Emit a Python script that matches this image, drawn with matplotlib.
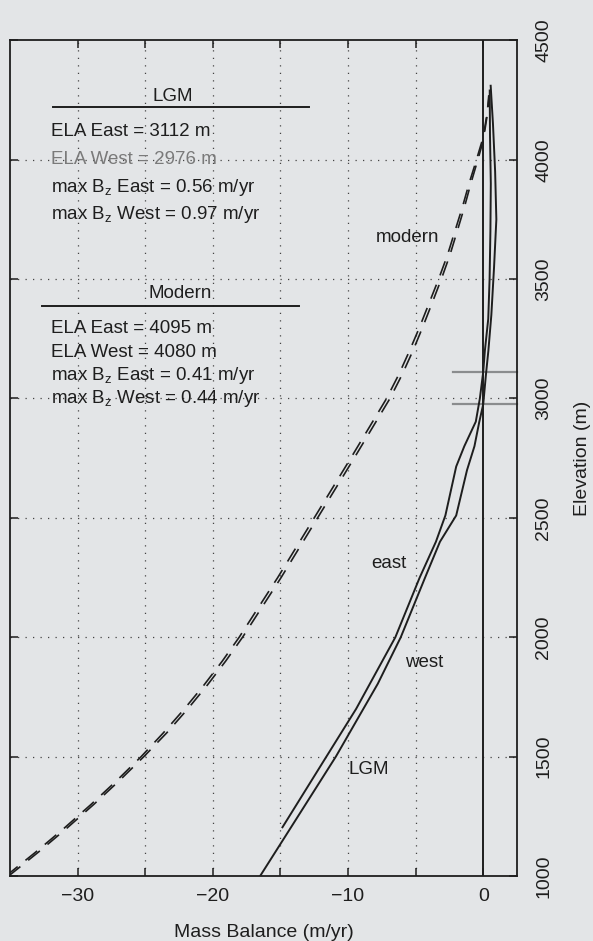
import matplotlib.pyplot as plt

plt.rcParams['font.family'] = ['Liberation Sans', 'DejaVu Sans']
plt.rcParams['mathtext.fontset'] = 'custom'
plt.rcParams['mathtext.rm'] = 'Liberation Sans'
plt.rcParams['mathtext.it'] = 'Liberation Sans'
plt.rcParams['mathtext.default'] = 'regular'

paper = '#e3e5e7'
ink = '#1e1e1e'

# Modern mass balance profiles (elevation in m, balance in m/yr)
modern_east_z = [1000, 1100, 1200, 1300, 1400, 1500, 1600, 1700, 1800, 1900, 2000,
                 2250, 2500, 2750, 3000, 3100, 3200, 3300, 3400, 3500, 3600,
                 3700, 3800, 3900, 4000, 4095, 4200, 4270]
modern_east_b = [-35.3, -33.1, -31.0, -29.0, -27.1, -25.3, -23.65, -22.1, -20.65, -19.3, -18.05,
                 -15.2, -12.5, -9.8, -7.15, -6.25, -5.45, -4.7, -4.0, -3.3, -2.65,
                 -2.1, -1.55, -1.05, -0.5, 0.0, 0.3, 0.41]
modern_west_z = [1000, 1100, 1200, 1300, 1400, 1500, 1600, 1700, 1800, 1900, 2000,
                 2250, 2500, 2750, 3000, 3100, 3200, 3300, 3400, 3500, 3600,
                 3700, 3800, 3900, 4000, 4080, 4200, 4270]
modern_west_b = [-35.1, -32.9, -30.8, -28.8, -26.9, -25.1, -23.4, -21.85, -20.4, -19.05, -17.8,
                 -14.95, -12.25, -9.55, -6.9, -6.0, -5.2, -4.47, -3.78, -3.1, -2.47,
                 -1.93, -1.4, -0.92, -0.4, 0.0, 0.33, 0.44]

# LGM mass balance profiles
lgm_east_z = [1204, 1500, 1700, 2000, 2250, 2400, 2510, 2715, 2800, 2903,
              3000, 3112, 3200, 3333, 3500, 3700, 3900, 4100, 4290]
lgm_east_b = [-14.85, -11.6, -9.4, -6.5, -4.7, -3.5, -2.8, -2.0, -1.4, -0.55,
              -0.25, 0.0, 0.12, 0.37, 0.47, 0.53, 0.56, 0.5, 0.48]
lgm_west_z = [1000, 1250, 1500, 1805, 2000, 2250, 2400, 2510, 2700, 2800,
              2900, 2976, 3100, 3200, 3350, 3550, 3750, 3950, 4150, 4310]
lgm_west_b = [-16.5, -13.7, -10.9, -7.8, -6.1, -4.3, -3.2, -2.0, -1.2, -0.65,
              -0.3, 0.0, 0.2, 0.38, 0.6, 0.8, 0.97, 0.88, 0.72, 0.55]

# equilibrium line altitudes
lgm_ela = [3112, 2976]

lgm_text = ['ELA East = 3112 m', 'ELA West = 2976 m',
            'max $B_z$ East = 0.56 m/yr', 'max $B_z$ West = 0.97 m/yr']
modern_text = ['ELA East = 4095 m', 'ELA West = 4080 m',
               'max $B_z$ East = 0.41 m/yr', 'max $B_z$ West = 0.44 m/yr']

fig = plt.figure(figsize=(5.93, 9.41), dpi=100, facecolor=paper)
ax = fig.add_axes([0.0169, 0.0691, 0.855, 0.888], facecolor=paper)

ax.set_xlim(-35, 2.5)
ax.set_ylim(1000, 4500)

# dotted grid
for gx in range(-30, 0, 5):
    ax.axvline(gx, color='#444', lw=0.9, ls=(0, (1, 5)), zorder=1)
for gy in range(1500, 4500, 500):
    ax.axhline(gy, color='#444', lw=0.9, ls=(0, (1, 5)), zorder=1)

ax.axvline(0, color=ink, lw=1.4, zorder=3)

for z in lgm_ela:
    ax.plot([-2.2, 2.5], [z, z], color='#8a8c8e', lw=1.6, zorder=2, clip_on=False)

ax.plot(modern_east_b, modern_east_z, color=ink, lw=1.2, dashes=(9, 6), zorder=3)
ax.plot(modern_west_b, modern_west_z, color=ink, lw=1.2, dashes=(9, 6), zorder=3)
ax.plot(lgm_east_b, lgm_east_z, color=ink, lw=1.4, zorder=3)
ax.plot(lgm_west_b, lgm_west_z, color=ink, lw=1.4, zorder=3)

# summary blocks
fs = 13.5
ax.text(-23.0, 4265, 'LGM', fontsize=fs, color=ink, ha='center', va='center')
ax.plot([-31.8, -12.9], [4219, 4219], color=ink, lw=1.4)
lgm_rows = [4119, 4002, 3885, 3771]
for i, (row, s) in enumerate(zip(lgm_rows, lgm_text)):
    ax.text(-32.0, row, s, fontsize=fs, ha='left', va='center',
            color='#7a7a7a' if i == 1 else ink)

ax.text(-22.4, 3441, 'Modern', fontsize=fs, color=ink, ha='center', va='center')
ax.plot([-32.6, -13.6], [3386, 3386], color=ink, lw=1.4)
modern_rows = [3294, 3194, 3097, 2999]
for row, s in zip(modern_rows, modern_text):
    ax.text(-32.0, row, s, fontsize=fs, ha='left', va='center', color=ink)

ax.text(-5.6, 3675, 'modern', fontsize=fs, ha='center', va='center', color=ink)
ax.text(-7.0, 2310, 'east', fontsize=fs, ha='center', va='center', color=ink)
ax.text(-4.4, 1896, 'west', fontsize=fs, ha='center', va='center', color=ink)
ax.text(-8.45, 1444, 'LGM', fontsize=fs, ha='center', va='center', color=ink)

# axes styling
ax.set_xticks(range(-30, 1, 5))
ax.set_xticklabels(['\u221230', '', '\u221220', '', '\u221210', '', '0'])
ax.set_yticks(range(1000, 4501, 500))
ax.tick_params(axis='x', direction='in', length=6, width=1.1, top=True, bottom=True,
               labelsize=14, pad=9, colors=ink)
ax.tick_params(axis='y', direction='in', length=6, width=1.1, left=True, right=True,
               labelleft=False, labelright=True, labelsize=14, pad=13,
               labelrotation=90, colors=ink)
for lab in ax.get_yticklabels():
    lab.set_va('center')

for sp in ax.spines.values():
    sp.set_linewidth(1.3)
    sp.set_color(ink)

ax.set_xlabel('Mass Balance (m/yr)', fontsize=14, labelpad=13, color=ink)
ax.yaxis.set_label_position('right')
ax.set_ylabel('Elevation (m)', fontsize=14, labelpad=16, color=ink)

fig.savefig('out.png', dpi=100, facecolor=paper)
